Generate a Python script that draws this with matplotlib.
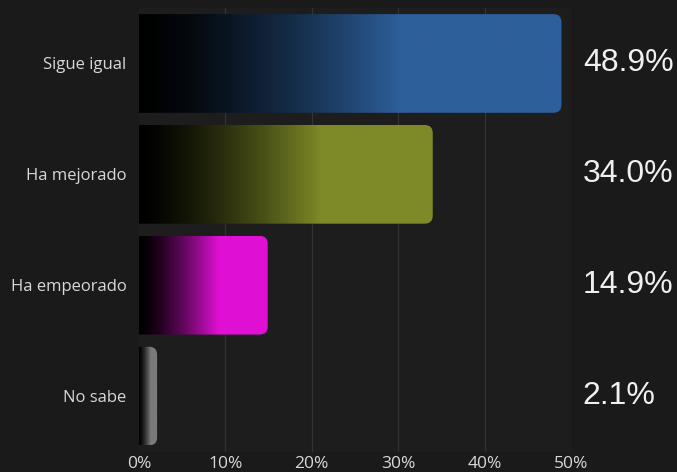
import numpy as np
import matplotlib.pyplot as plt
from matplotlib.patches import FancyBboxPatch
from matplotlib.colors import to_rgb

categories = ['Sigue igual', 'Ha mejorado', 'Ha empeorado', 'No sabe']
values = [48.9, 34.0, 14.9, 2.1]
colors = ['#2d5f9b', '#7e8a27', '#e010d4', '#7a7a7a']
ticks = [0, 10, 20, 30, 40, 50]

bg = '#1a1a1a'
fig = plt.figure(figsize=(6.77, 4.72), dpi=100, facecolor=bg)
ax = fig.add_axes([0.2053, 0.0434, 0.6381, 0.9396])
ax.set_facecolor('#1d1d1d')

ax.set_xlim(0, 50)
ax.set_ylim(3.5, -0.5)
bar_h = 0.89

# vertical grid behind the bars
for t in ticks[1:]:
    ax.axvline(t, color='#333333', lw=0.9, zorder=0)

# gradient bars: black on the left fading into the colour
for i, (v, c) in enumerate(zip(values, colors)):
    t = np.linspace(0, 1, 1024)
    ramp = np.clip(t / 0.62, 0, 1) ** 1.4
    rgb = np.array(to_rgb(c))
    img = np.repeat(ramp[None, :, None] * rgb[None, None, :], 4, axis=0)
    y0, y1 = i - bar_h / 2, i + bar_h / 2
    im = ax.imshow(img, extent=(0, v, y1, y0), aspect='auto', zorder=2,
                   interpolation='bilinear', interpolation_stage='rgba')
    clip = FancyBboxPatch((-2, y0), v + 2, bar_h,
                          boxstyle='round,pad=0,rounding_size=0.95',
                          mutation_aspect=0.075, transform=ax.transData,
                          facecolor='none', edgecolor='none')
    ax.add_patch(clip)
    im.set_clip_path(clip)

    # value label on the right
    ax.annotate(f'{v:.1f}%', xy=(1, i), xycoords=('axes fraction', 'data'),
                xytext=(8.5, 0), textcoords='offset points', ha='left', va='center',
                fontsize=23, color='#f0f0f0', family='Liberation Sans')

ax.set_yticks(range(len(categories)))
ax.set_yticklabels(categories, family='Open Sans', fontsize=12, color='#d8d8d8')
ax.set_xticks(ticks)
ax.set_xticklabels([f'{t}%' for t in ticks], family='Open Sans', fontsize=12.5,
                   color='#d8d8d8')
ax.tick_params(length=0, pad=9)
ax.tick_params(axis='x', pad=3)
for s in ax.spines.values():
    s.set_visible(False)

fig.savefig('out.png', dpi=100, facecolor=bg)
